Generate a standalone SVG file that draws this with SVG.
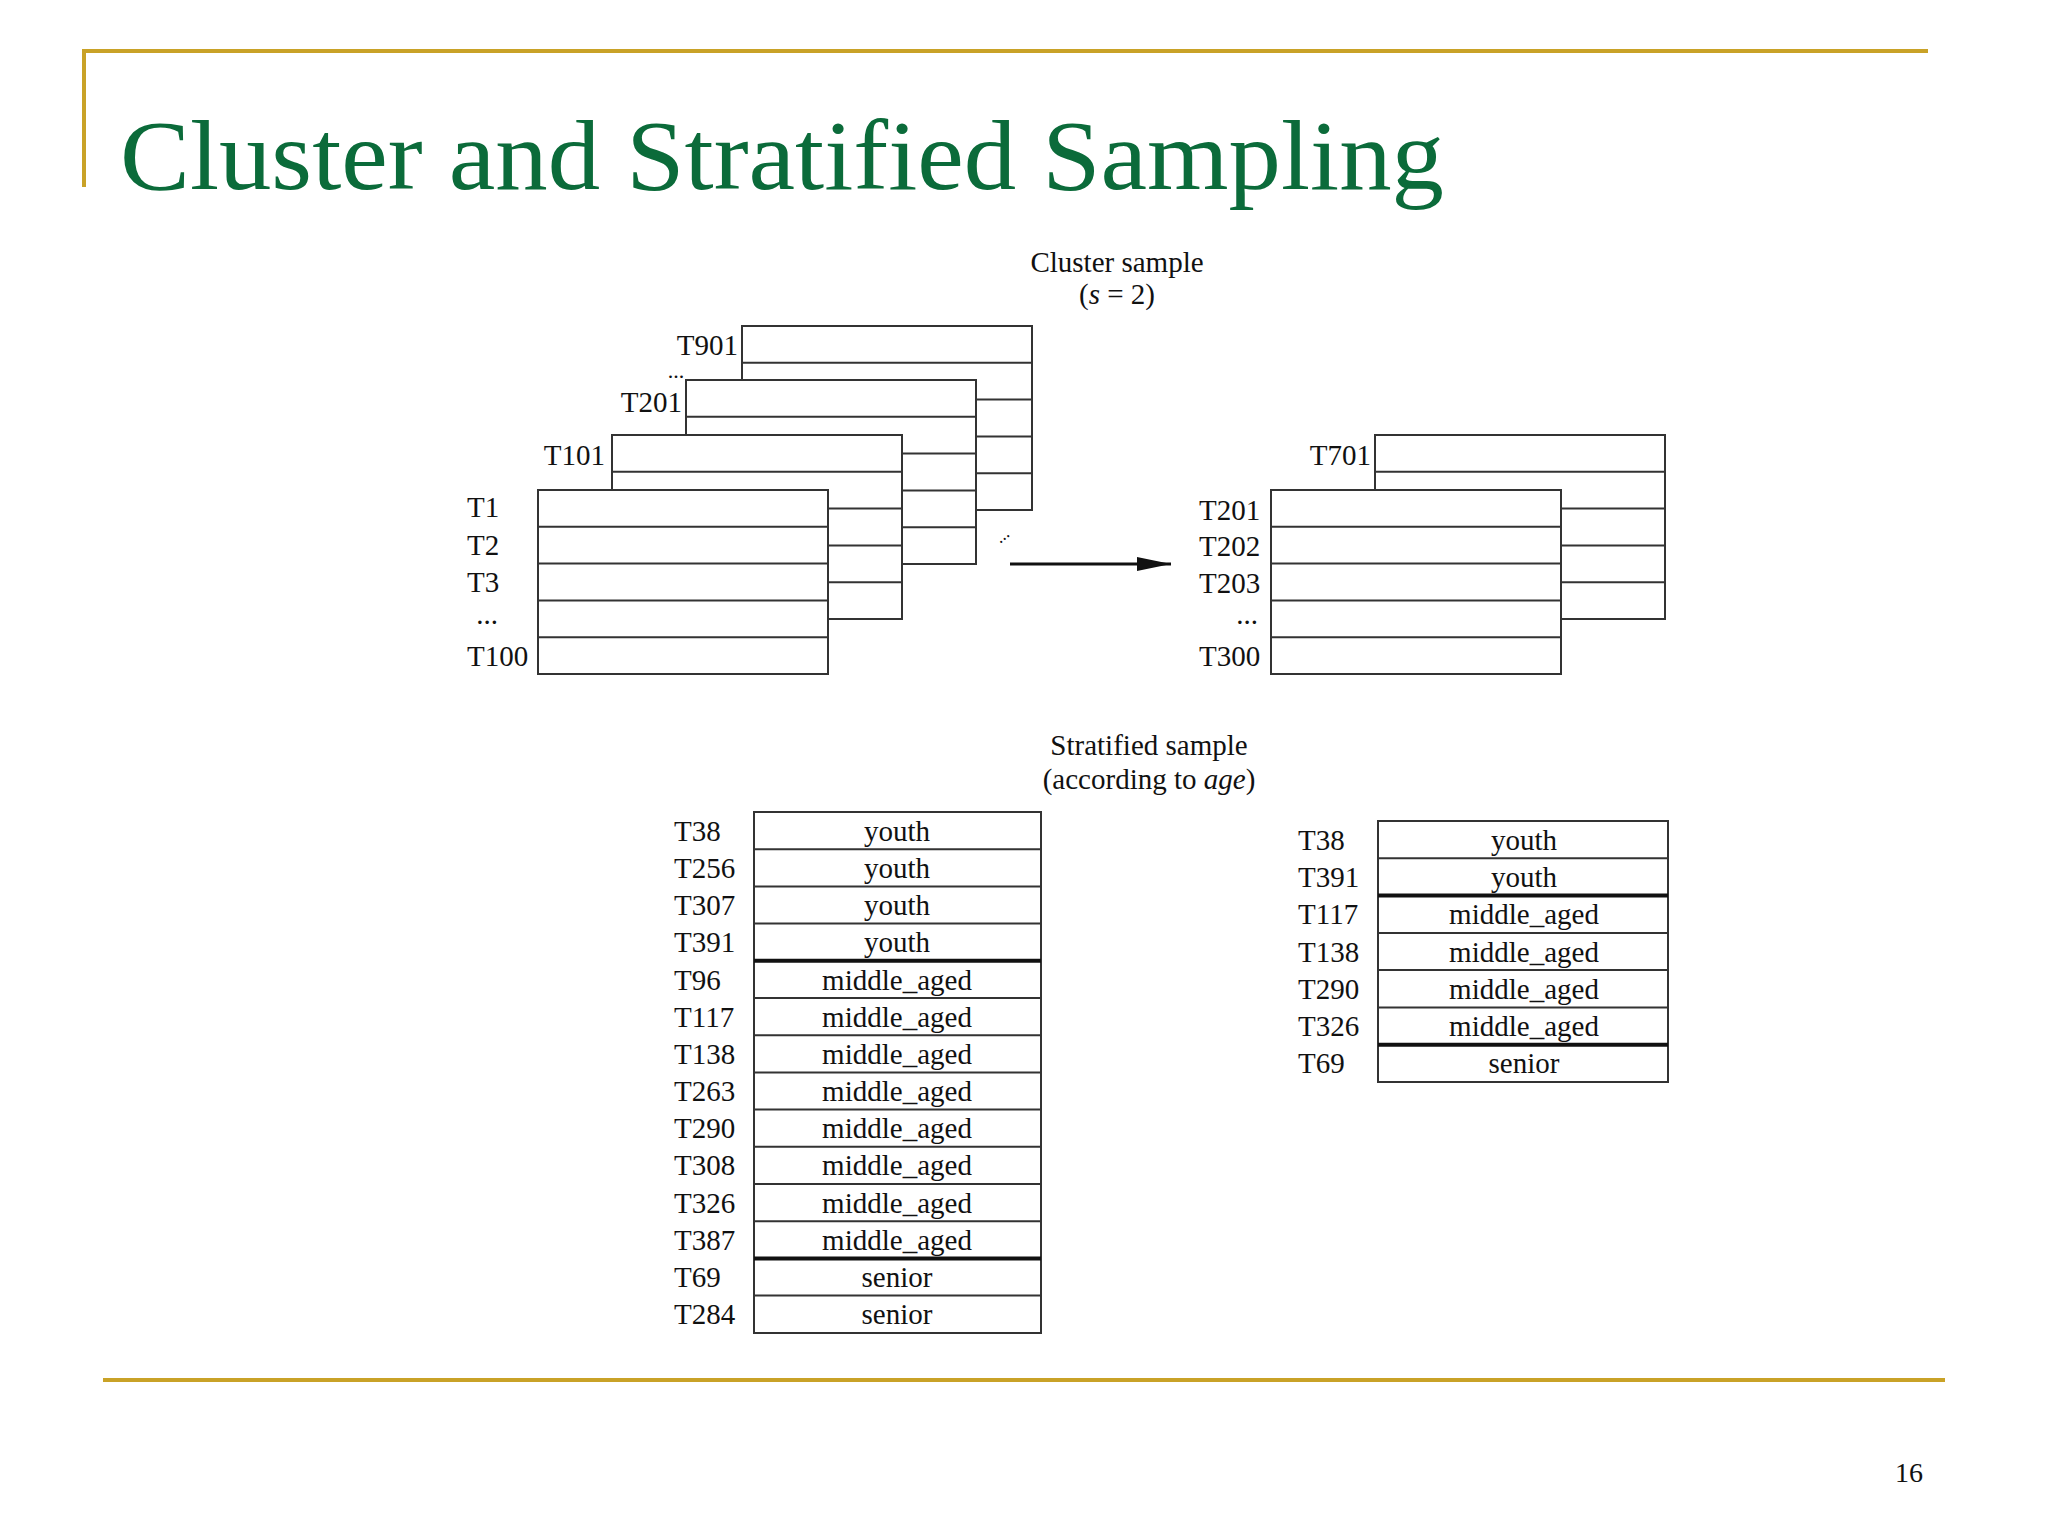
<svg xmlns="http://www.w3.org/2000/svg" width="2048" height="1536" viewBox="0 0 2048 1536">
<style>
text{font-family:"Liberation Serif","DejaVu Serif",serif;fill:#111}
.l{font-size:29px}
.c{text-anchor:middle}
.e{text-anchor:end}
.t{fill:#fff;stroke:#333;stroke-width:2}
.r{stroke:#333;stroke-width:2}
.k{stroke:#111;stroke-width:4}
.g{stroke:#C9A227;stroke-width:4;fill:none}
</style>
<defs>
<g id="stack">
<rect class="t" x="0" y="0" width="290" height="184"/>
<line class="r" x1="0" y1="36.8" x2="290" y2="36.8"/>
<line class="r" x1="0" y1="73.6" x2="290" y2="73.6"/>
<line class="r" x1="0" y1="110.4" x2="290" y2="110.4"/>
<line class="r" x1="0" y1="147.2" x2="290" y2="147.2"/>
</g>
<marker id="ah2" viewBox="0 0 10 10" refX="10" refY="5" markerWidth="34" markerHeight="14" markerUnits="userSpaceOnUse" orient="auto" preserveAspectRatio="none"><path d="M0,0 L10,5 L0,10 z" fill="#111"/></marker>
</defs>
<rect width="2048" height="1536" fill="#fff"/>
<path class="g" d="M84,187 V51 H1928"/>
<line class="g" x1="103" y1="1380" x2="1945" y2="1380"/>
<text x="120" y="189" style="font-size:100px;fill:#0B6B3A" textLength="1324" lengthAdjust="spacingAndGlyphs">Cluster and  Stratified Sampling</text>
<text x="1909" y="1482" class="c" style="font-size:28px">16</text>

<g id="cluster-title"><text class="l c" x="1117" y="272">Cluster sample</text><text class="l c" x="1117" y="304">(<tspan font-style="italic">s</tspan> = 2)</text></g>

<g id="cluster-source">
<use href="#stack" x="742" y="326"/>
<use href="#stack" x="686" y="380"/>
<use href="#stack" x="612" y="435"/>
<use href="#stack" x="538" y="490"/>
<text class="l e" x="738" y="355">T901</text>
<text class="c" x="676" y="378" style="font-size:22px">...</text>
<text class="l e" x="682" y="412">T201</text>
<text class="l e" x="605" y="465">T101</text>
<text class="l" x="467" y="517">T1</text>
<text class="l" x="467" y="555">T2</text>
<text class="l" x="467" y="592">T3</text>
<text class="l c" x="487" y="624">...</text>
<text class="l" x="467" y="666">T100</text>
<text x="1000" y="544" style="font-size:18px" transform="rotate(-40 1000 544)">...</text>
</g>

<g id="connectors"><line x1="1010" y1="564" x2="1171" y2="564" stroke="#111" stroke-width="3" marker-end="url(#ah2)"/></g>

<g id="cluster-result">
<use href="#stack" x="1375" y="435"/>
<use href="#stack" x="1271" y="490"/>
<text class="l e" x="1371" y="465">T701</text>
<text class="l" x="1199" y="520">T201</text>
<text class="l" x="1199" y="556">T202</text>
<text class="l" x="1199" y="593">T203</text>
<text class="l c" x="1247" y="624">...</text>
<text class="l" x="1199" y="666">T300</text>
</g>

<g id="strat-title"><text class="l c" x="1149" y="755">Stratified sample</text><text class="l c" x="1149" y="789">(according to <tspan font-style="italic">age</tspan>)</text></g>

<g id="strat-source">
<rect class="t" x="754" y="812" width="287" height="521"/>
<g class="r">
<line x1="754" y1="849.2" x2="1041" y2="849.2"/><line x1="754" y1="886.4" x2="1041" y2="886.4"/><line x1="754" y1="923.6" x2="1041" y2="923.6"/>
<line x1="754" y1="998" x2="1041" y2="998"/><line x1="754" y1="1035.2" x2="1041" y2="1035.2"/><line x1="754" y1="1072.4" x2="1041" y2="1072.4"/><line x1="754" y1="1109.6" x2="1041" y2="1109.6"/><line x1="754" y1="1146.8" x2="1041" y2="1146.8"/><line x1="754" y1="1184" x2="1041" y2="1184"/><line x1="754" y1="1221.2" x2="1041" y2="1221.2"/>
<line x1="754" y1="1295.6" x2="1041" y2="1295.6"/>
</g>
<line class="k" x1="754" y1="960.8" x2="1041" y2="960.8"/>
<line class="k" x1="754" y1="1258.4" x2="1041" y2="1258.4"/>
<text class="l" x="674" y="841">T38</text><text class="l c" x="897" y="841">youth</text>
<text class="l" x="674" y="878">T256</text><text class="l c" x="897" y="878">youth</text>
<text class="l" x="674" y="915">T307</text><text class="l c" x="897" y="915">youth</text>
<text class="l" x="674" y="952">T391</text><text class="l c" x="897" y="952">youth</text>
<text class="l" x="674" y="990">T96</text><text class="l c" x="897" y="990">middle_aged</text>
<text class="l" x="674" y="1027">T117</text><text class="l c" x="897" y="1027">middle_aged</text>
<text class="l" x="674" y="1064">T138</text><text class="l c" x="897" y="1064">middle_aged</text>
<text class="l" x="674" y="1101">T263</text><text class="l c" x="897" y="1101">middle_aged</text>
<text class="l" x="674" y="1138">T290</text><text class="l c" x="897" y="1138">middle_aged</text>
<text class="l" x="674" y="1175">T308</text><text class="l c" x="897" y="1175">middle_aged</text>
<text class="l" x="674" y="1213">T326</text><text class="l c" x="897" y="1213">middle_aged</text>
<text class="l" x="674" y="1250">T387</text><text class="l c" x="897" y="1250">middle_aged</text>
<text class="l" x="674" y="1287">T69</text><text class="l c" x="897" y="1287">senior</text>
<text class="l" x="674" y="1324">T284</text><text class="l c" x="897" y="1324">senior</text>
</g>

<g id="strat-result">
<rect class="t" x="1378" y="821" width="290" height="261"/>
<g class="r">
<line x1="1378" y1="858.3" x2="1668" y2="858.3"/>
<line x1="1378" y1="932.9" x2="1668" y2="932.9"/><line x1="1378" y1="970.1" x2="1668" y2="970.1"/><line x1="1378" y1="1007.4" x2="1668" y2="1007.4"/>
</g>
<line class="k" x1="1378" y1="895.6" x2="1668" y2="895.6"/>
<line class="k" x1="1378" y1="1044.7" x2="1668" y2="1044.7"/>
<text class="l" x="1298" y="850">T38</text><text class="l c" x="1524" y="850">youth</text>
<text class="l" x="1298" y="887">T391</text><text class="l c" x="1524" y="887">youth</text>
<text class="l" x="1298" y="924">T117</text><text class="l c" x="1524" y="924">middle_aged</text>
<text class="l" x="1298" y="962">T138</text><text class="l c" x="1524" y="962">middle_aged</text>
<text class="l" x="1298" y="999">T290</text><text class="l c" x="1524" y="999">middle_aged</text>
<text class="l" x="1298" y="1036">T326</text><text class="l c" x="1524" y="1036">middle_aged</text>
<text class="l" x="1298" y="1073">T69</text><text class="l c" x="1524" y="1073">senior</text>
</g>
</svg>
